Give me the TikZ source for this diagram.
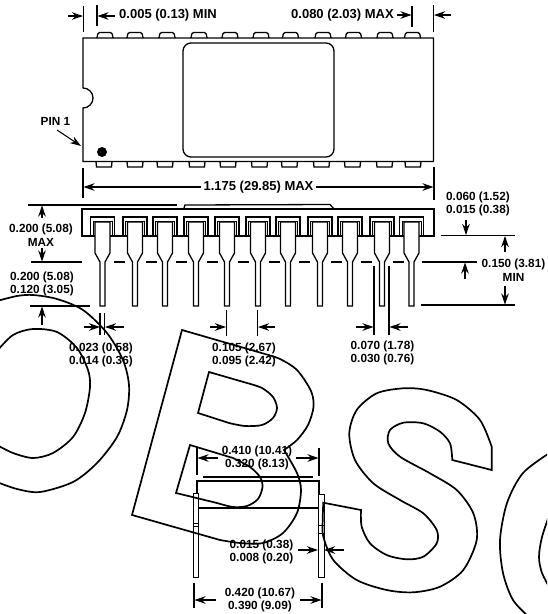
\documentclass[tikz,border=0pt]{standalone}
\usepackage{fontspec}
\setmainfont{Liberation Sans}
\usetikzlibrary{arrows.meta, positioning}

\begin{document}
\begin{tikzpicture}[x=1pt,y=-1pt,node distance=13pt,
                    every node/.style={inner sep=0pt, font=\bfseries\fontsize{11.8}{13}\selectfont},
                    widetext/.style={font=\bfseries\fontsize{13}{13}\selectfont},
                    dimline/.style={line width=1.1pt,-{Stealth[length=11pt,width=7.5pt]}},
                    extline/.style={line width=1.1pt},
                    outline/.style={line width=1.3pt},
                    letter/.style={line width=1.7pt, line join=miter}]

\path[use as bounding box, clip] (0,0) rectangle (547,614);

% Top view
\draw[outline] (83,88) -- (83,38) -- (433.5,38) -- (433.5,161.5) -- (83,161.5) -- (83,108)
               arc[start angle=90,end angle=-90,radius=10];
\draw[outline,rounded corners=8pt] (183,43) rectangle (334,157);
\foreach \c in {105,135,167,199,230,261,290.5,323,353.5,385,412.5}
  \draw[outline,rounded corners=1.5pt] (\c-8,38) -- (\c-7,32.5) -- (\c+7,32.5) -- (\c+8,38);
\foreach \c in {104,135,165,197,228,259.5,289.5,321.5,352.5,384.5,413}
  \draw[outline] (\c-8,161.5) -- (\c-7.5,167) -- (\c+7.5,167) -- (\c+8,161.5);
\fill (102,152) circle (5);

% Side view
\draw[outline] (82,236) -- (82,209) -- (434,209) -- (434,236) -- cycle;
\draw[outline] (184,208) -- (185,205) -- (330,204.5) -- (334,209);
\foreach \c in {102.5,135,165,196,227,258,288,320,350,382,411.5}
{
  \draw[outline] (\c-12,236) -- (\c-12,217) -- (\c+12,217) -- (\c+12,236);
  \draw[line width=1pt] (\c-9.5,236) -- (\c-9.5,221.5) -- (\c+9.5,221.5) -- (\c+9.5,236);
  \draw[outline,fill=white] (\c-7.5,222) -- (\c-7.5,253) -- (\c-2.5,262) -- (\c-2.5,306) -- (\c+2.5,306)
        -- (\c+2.5,262) -- (\c+7.5,253) -- (\c+7.5,222) -- cycle;
}
\foreach \c in {102.5,135,165,196,227,258,288,320,350,382}
  \draw[extline] (\c+11,262) -- (\c+22,262);

% End view
\draw[outline] (203,477) -- (313,477);
\draw[outline] (197,493) -- (197,481) -- (319,481) -- (319,494);
\draw[outline] (198,508) -- (318,508);
\draw[line width=1pt] (193,493) rectangle (198.5,577);
\draw[line width=1pt] (318,494) rectangle (324,577);
\draw[line width=1pt] (193,523) -- (198.5,523) (193,526) -- (198.5,526);
\draw[line width=1pt] (318,525) -- (324,525) (318,533) -- (324,533);

% Labels
\node (minlead) [widetext] at (168,15) {0.005 (0.13) MIN};
\node (maxlead) [widetext] at (342.5,15) {0.080 (2.03) MAX};
\node (pin1) at (55.5,121) {PIN 1};
\node (length) [widetext] at (258.5,187) {1.175 (29.85) MAX};
\node (lidhi) at (478,197) {0.060 (1.52)};
\node (lidlo) [below of=lidhi] {0.015 (0.38)};
\node (heighthi) at (41,229) {0.200 (5.08)};
\node (heightlo) [below of=heighthi] {MAX};
\node (seathi) at (42,277) {0.200 (5.08)};
\node (seatlo) [below of=seathi] {0.120 (3.05)};
\node (clearhi) at (513.5,264) {0.150 (3.81)};
\node (clearlo) [below of=clearhi] {MIN};
\node (tiphi) at (101,348) {0.023 (0.58)};
\node (tiplo) [below of=tiphi] {0.014 (0.36)};
\node (pitchhi) at (244,348) {0.105 (2.67)};
\node (pitchlo) [below of=pitchhi] {0.095 (2.42)};
\node (shoulderhi) at (382.5,346) {0.070 (1.78)};
\node (shoulderlo) [below of=shoulderhi] {0.030 (0.76)};
\node (widthhi) at (257,451) {0.410 (10.41)};
\node (widthlo) [below of=widthhi] {0.320 (8.13)};
\node (thickhi) at (261.5,545.5) {0.015 (0.38)};
\node (thicklo) [below of=thickhi] {0.008 (0.20)};
\node (spanhi) at (260,593) {0.420 (10.67)};
\node (spanlo) [below of=spanhi] {0.390 (9.09)};

% Extension lines
\draw[extline] (83.5,6) -- (83.5,32);
\draw[extline] (97,5) -- (97,26);
\draw[extline] (412,6) -- (412,27);
\draw[extline] (433.5,5) -- (433.5,32);
\draw[extline] (83,168) -- (83,198);
\draw[extline] (434,167) -- (434,200);
\draw[extline] (28,205) -- (177,205);
\draw[extline] (31,262) -- (82,262);
\draw[extline] (30,306) -- (90,306);
\draw[extline] (422,262) -- (477,262);
\draw[extline] (441,235.5) -- (515,235.5);
\draw[extline] (421,305) -- (515,305);
\draw[extline] (100,313) -- (100,335);
\draw[extline] (104.5,313) -- (104.5,335);
\draw[extline] (226.5,310) -- (226.5,336);
\draw[extline] (257.5,310) -- (257.5,336);
\draw[extline] (374,266) -- (374,335);
\draw[extline] (389,266) -- (389,335);
\draw[extline] (197,448) -- (197,475);
\draw[extline] (319,448) -- (319,476);
\draw[extline] (194,583) -- (194,608);
\draw[extline] (322,583) -- (322,608);

% Arrows
\draw[dimline] (68,16) -- (83,16);
\draw[dimline] (115,16) -- (97.5,16);
\draw[dimline] (maxlead.east) ++(3,0) -- (411.5,15);
\draw[dimline] (451,15) -- (434,15);
\draw[dimline] (57,130) -- (81,146);
\draw[dimline] (length.west) ++(-2,0) -- (83.5,187);
\draw[dimline] (length.east) ++(2,0) -- (433.5,187);
\draw[dimline] (42,218) -- (42,205.5);
\draw[dimline] (42,248) -- (42,261.5);
\draw[dimline] (42,325) -- (42,306.5);
\draw[dimline] (466,220) -- (466,235);
\draw[dimline] (505,252) -- (505,236);
\draw[dimline] (465,279) -- (465,262.5);
\draw[dimline] (505,286) -- (505,304.5);
\draw[dimline] (84,327) -- (100,327);
\draw[dimline] (124,327) -- (105,327);
\draw[dimline] (210,327) -- (226,327);
\draw[dimline] (275,327) -- (258,327);
\draw[dimline] (356,327) -- (373.5,327);
\draw[dimline] (408,327) -- (389.5,327);
\draw[dimline] (218,458) -- (197.5,458);
\draw[dimline] (296,458) -- (318.5,458);
\draw[dimline] (298,550) -- (318,550);
\draw[dimline] (344,550) -- (324,550);
\draw[dimline] (216,600) -- (194.5,600);
\draw[dimline] (300,600) -- (321.5,600);

% Overprinted letters
\draw[letter] plot[smooth] coordinates {(-3,301) (17,296) (33,295) (57,299) (83,310) (107,333) (123,360) (129,385)
      (127,410) (117,437) (97,463) (73,482) (40,492) (17,489) (-3,482)};
\draw[letter] plot[smooth] coordinates {(-3,351) (13,335) (33,329) (57,332) (77,348) (88,370) (90,387) (85,413)
      (73,437) (53,453) (33,458) (13,453) (-3,445)};
\draw[letter] (182,330) -- plot[smooth] coordinates {(265,354) (280,359) (297,370) (311,391) (313.5,407) (308,425) (297,440) (284,450)}
      -- plot[smooth] coordinates {(284,450) (297,473) (301,490) (297,513) (283,533) (263,543) (240,543) (220,540)}
      -- (132,515) -- cycle;
\draw[letter] (209,372) -- plot[smooth] coordinates {(247,383) (262,388) (273,397) (277,408) (273,418) (262,425) (245,426) (229,423)}
      -- (198,413) -- cycle;
\draw[letter] (190,445) -- plot[smooth] coordinates {(233,458) (250,467) (260,477) (262.5,487) (258,499) (247,506) (233,507) (217,503)}
      -- (176,493) -- cycle;
\draw[letter] (491.7,470) -- plot[smooth] coordinates {(491.7,446.7) (480,420) (456.7,400) (426.7,390) (403.3,388.3) (376.7,393.3)
      (356.7,410) (349.3,433.3) (355,460) (373.3,483.3) (400,500) (423.3,513.3) (436.7,530) (436.7,543.3) (423.3,556.7)
      (406.7,559.3) (386.7,555) (370,543.3) (361.7,526.7) (361,510)}
      -- plot[smooth] coordinates {(323.3,502.7) (322.7,520) (323.3,536.7) (333.3,560) (356.7,580) (386.7,590) (413.3,592.3)
      (440,586.7) (463.3,570) (476.7,540) (473.3,513.3) (456.7,490) (430,473.3) (400,456.7) (388.3,443.3) (390,430)
      (403.3,422.7) (423.3,423.3) (440,431.7) (450,443.3) (452.3,460)} -- cycle;
\draw[letter] plot[smooth] coordinates {(551,452) (523,473) (507,503) (500,540) (503,573) (513,600) (530,618)};
\draw[letter] plot[smooth] coordinates {(551,510) (542,537) (539,557) (542,573) (551,590)};

\end{tikzpicture}
\end{document}
